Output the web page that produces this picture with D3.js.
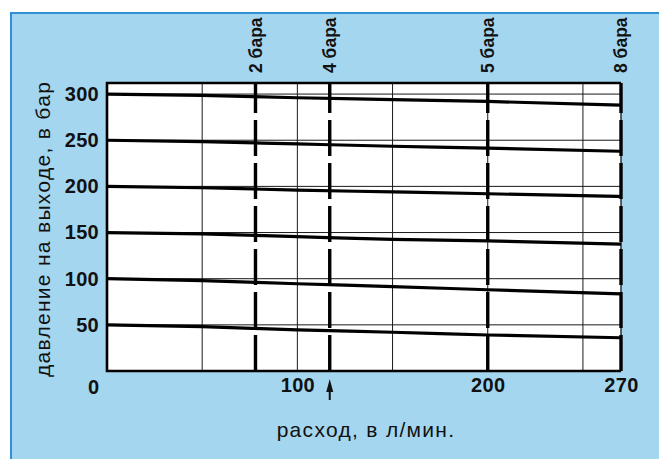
<!DOCTYPE html>
<html>
<head>
<meta charset="utf-8">
<script src="https://cdn.jsdelivr.net/npm/d3@7"></script>
<style>
  body { margin: 0; background: #fff; }
  svg { display: block; }
  text { font-family: "Liberation Sans", Arial, Helvetica, sans-serif; fill: #111; }
</style>
</head>
<body>
<svg id="chart" width="659" height="459"></svg>
<script>
// Flow rate (l/min) at which outlet pressure was read
const flowPoints = [0, 50, 100, 150, 200, 270];

// Outlet pressure (bar) for each set pressure, falling with flow
const outlet300 = [300, 298.5, 296, 294, 292, 288];
const outlet250 = [250, 248.5, 246, 243.5, 241.5, 238];
const outlet200 = [200, 198.5, 196, 194, 192, 189];
const outlet150 = [150, 148.5, 145.5, 142.5, 141, 137.5];
const outlet100 = [100, 98, 94.5, 91.5, 88, 83.5];
const outlet50  = [50, 48, 44.5, 42, 39, 36];

// Flow limits for each inlet pressure (dashed verticals)
const inletFlow   = [78, 117, 200, 270];
const inletLabels = ["2 бара", "4 бара", "5 бара", "8 бара"];

// Axis ticks and grid
const xTickValues = [100, 200, 270];
const yTickValues = [50, 100, 150, 200, 250, 300];
const xGridValues = [50, 100, 150, 200, 250];
const markedFlow = 117;

const xTitle = "расход, в л/мин.";
const yTitle = "давление на выходе, в бар";

const svg = d3.select("#chart");
const W = 659, H = 459;
const plot = { left: 107, right: 621, top: 83, bottom: 371 };

const x = d3.scaleLinear().domain([0, 270]).range([plot.left, plot.right]);
const y = d3.scaleLinear().domain([0, 312]).range([plot.bottom, plot.top]);

// Panel background with its blue edge
svg.append("rect").attr("x", 0).attr("y", 0).attr("width", W).attr("height", H).attr("fill", "#fff");
svg.append("rect").attr("x", 10).attr("y", 12).attr("width", W - 10).attr("height", H - 12)
  .attr("fill", "#a5d6f0");
svg.append("path").attr("d", `M11,${H} V13 H${W}`)
  .attr("fill", "none").attr("stroke", "#2f8fd8").attr("stroke-width", 2);

// Plot area
svg.append("rect")
  .attr("x", plot.left).attr("y", plot.top)
  .attr("width", plot.right - plot.left).attr("height", plot.bottom - plot.top)
  .attr("fill", "#fff");

// Thin grid
const grid = svg.append("g").attr("stroke", "#1a1a1a").attr("stroke-width", 1);
grid.selectAll("line.h").data(yTickValues).join("line").attr("class", "h")
  .attr("x1", plot.left).attr("x2", plot.right)
  .attr("y1", d => y(d)).attr("y2", d => y(d));
grid.selectAll("line.v").data(xGridValues).join("line").attr("class", "v")
  .attr("x1", d => x(d)).attr("x2", d => x(d))
  .attr("y1", plot.top).attr("y2", plot.bottom);

// Pressure curves
const series = [outlet300, outlet250, outlet200, outlet150, outlet100, outlet50];
const line = d3.line()
  .x((d, i) => x(flowPoints[i]))
  .y(d => y(d))
  .curve(d3.curveMonotoneX);
svg.append("g").selectAll("path").data(series).join("path")
  .attr("d", line)
  .attr("fill", "none").attr("stroke", "#000").attr("stroke-width", 3.2);

// Frame: heavy left, top, bottom; light right edge under the dashed limit
const frame = svg.append("g").attr("stroke", "#000").attr("fill", "none");
frame.append("path")
  .attr("d", `M${plot.right},${plot.top} H${plot.left} V${plot.bottom} H${plot.right}`)
  .attr("stroke-width", 2.6);
frame.append("line")
  .attr("x1", plot.right).attr("x2", plot.right).attr("y1", plot.top).attr("y2", plot.bottom)
  .attr("stroke-width", 1.2);

// Inlet pressure limits
svg.append("g").selectAll("line").data(inletFlow).join("line")
  .attr("x1", d => x(d)).attr("x2", d => x(d))
  .attr("y1", plot.top).attr("y2", plot.bottom)
  .attr("stroke", "#000").attr("stroke-width", 3.4)
  .attr("stroke-dasharray", "36,7").attr("stroke-dashoffset", 6);

svg.append("g").selectAll("text").data(inletFlow).join("text")
  .attr("transform", d => `translate(${x(d)},73) rotate(-90)`)
  .attr("dy", "0.36em")
  .attr("text-anchor", "start")
  .style("font-size", "17.5px").style("font-weight", "bold")
  .text((d, i) => inletLabels[i]);

// Y axis labels
const yAxis = svg.append("g").attr("transform", `translate(${plot.left},0)`)
  .call(d3.axisLeft(y).tickValues(yTickValues).tickSize(0).tickPadding(8));
yAxis.select(".domain").remove();
yAxis.selectAll("text")
  .style("font-size", "20px").style("font-weight", "bold").style("letter-spacing", "0.3px")
  .attr("fill", "#111");

// X axis labels
const xAxis = svg.append("g").attr("transform", `translate(0,${plot.bottom})`)
  .call(d3.axisBottom(x).tickValues(xTickValues).tickSize(0));
xAxis.select(".domain").remove();
xAxis.selectAll("text")
  .attr("y", 7).attr("dy", "0.71em")
  .style("font-size", "20px").style("font-weight", "bold").style("letter-spacing", "0.3px")
  .attr("fill", "#111");

// Origin label
svg.append("text")
  .attr("x", x(0) - 8).attr("y", plot.bottom + 23)
  .attr("text-anchor", "end")
  .style("font-size", "20px").style("font-weight", "bold")
  .text("0");

// Arrow marking the working flow
const ax = x(markedFlow);
svg.append("line")
  .attr("x1", ax).attr("x2", ax).attr("y1", 389).attr("y2", 400)
  .attr("stroke", "#111").attr("stroke-width", 2);
svg.append("path")
  .attr("d", `M${ax},379 L${ax - 3.5},392 L${ax + 3.5},392 Z`)
  .attr("fill", "#111");

// Axis titles
svg.append("text")
  .attr("x", 366).attr("y", 437)
  .attr("text-anchor", "middle")
  .style("font-size", "21px").style("letter-spacing", "1.3px")
  .text(xTitle);

svg.append("text")
  .attr("transform", "translate(50,229) rotate(-90)")
  .attr("text-anchor", "middle")
  .style("font-size", "21px").style("letter-spacing", "1.3px")
  .text(yTitle);
</script>
</body>
</html>
